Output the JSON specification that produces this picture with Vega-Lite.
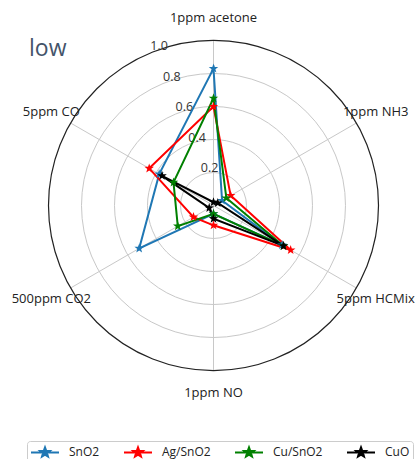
{
  "$schema": "https://vega.github.io/schema/vega-lite/v6.json",
  "autosize": "none",
  "width": 416,
  "height": 459,
  "padding": 0,
  "background": "white",
  "config": {"view": {"stroke": null}},
  "title": {"text": "low", "anchor": "start", "frame": "group", "orient": "top", "offset": 0, "dx": 29, "dy": 79, "baseline": "alphabetic", "fontSize": 23, "font": "Open Sans", "fontWeight": "normal", "color": "#44546A"},
  "datasets": {
    "scores": [
      {"material": "SnO2", "gas": "1ppm acetone", "value": 0.83},
      {"material": "SnO2", "gas": "1ppm NH3", "value": 0.06},
      {"material": "SnO2", "gas": "5ppm HCMix", "value": 0.48},
      {"material": "SnO2", "gas": "1ppm NO", "value": 0.05},
      {"material": "SnO2", "gas": "500ppm CO2", "value": 0.52},
      {"material": "SnO2", "gas": "5ppm CO", "value": 0.38},
      {"material": "Ag/SnO2", "gas": "1ppm acetone", "value": 0.6},
      {"material": "Ag/SnO2", "gas": "1ppm NH3", "value": 0.12},
      {"material": "Ag/SnO2", "gas": "5ppm HCMix", "value": 0.54},
      {"material": "Ag/SnO2", "gas": "1ppm NO", "value": 0.12},
      {"material": "Ag/SnO2", "gas": "500ppm CO2", "value": 0.14},
      {"material": "Ag/SnO2", "gas": "5ppm CO", "value": 0.45},
      {"material": "Cu/SnO2", "gas": "1ppm acetone", "value": 0.65},
      {"material": "Cu/SnO2", "gas": "1ppm NH3", "value": 0.09},
      {"material": "Cu/SnO2", "gas": "5ppm HCMix", "value": 0.49},
      {"material": "Cu/SnO2", "gas": "1ppm NO", "value": 0.05},
      {"material": "Cu/SnO2", "gas": "500ppm CO2", "value": 0.25},
      {"material": "Cu/SnO2", "gas": "5ppm CO", "value": 0.28},
      {"material": "CuO", "gas": "1ppm acetone", "value": 0.02},
      {"material": "CuO", "gas": "1ppm NH3", "value": 0.03},
      {"material": "CuO", "gas": "5ppm HCMix", "value": 0.49},
      {"material": "CuO", "gas": "1ppm NO", "value": 0.08},
      {"material": "CuO", "gas": "500ppm CO2", "value": 0.03},
      {"material": "CuO", "gas": "5ppm CO", "value": 0.36}
    ],
    "gases": [
      {"gas": "1ppm acetone"},
      {"gas": "1ppm NH3"},
      {"gas": "5ppm HCMix"},
      {"gas": "1ppm NO"},
      {"gas": "500ppm CO2"},
      {"gas": "5ppm CO"}
    ],
    "rings": [
      {"r": 0.2, "label": "0.2"},
      {"r": 0.4, "label": "0.4"},
      {"r": 0.6, "label": "0.6"},
      {"r": 0.8, "label": "0.8"},
      {"r": 1.0, "label": "1.0"}
    ]
  },
  "layer": [
    {
      "data": {"name": "rings"},
      "transform": [{"filter": "datum.r < 1"}],
      "mark": {"type": "point", "filled": false, "stroke": "#c8c8c8", "strokeWidth": 1, "shape": "circle", "opacity": 1},
      "encoding": {
        "x": {"datum": 0, "type": "quantitative", "scale": {"domain": [-1.2939, 1.2273], "nice": false, "zero": false}, "axis": null},
        "y": {"datum": 0, "type": "quantitative", "scale": {"domain": [-1.5364, 1.2455], "nice": false, "zero": false}, "axis": null},
        "size": {"field": "r", "type": "quantitative", "scale": {"type": "pow", "exponent": 2, "domain": [0, 1], "range": [0, 108900], "zero": true}, "legend": null}
      }
    },
    {
      "data": {"name": "gases"},
      "transform": [
        {"calculate": "indexof(['1ppm acetone','1ppm NH3','5ppm HCMix','1ppm NO','500ppm CO2','5ppm CO'], datum.gas)", "as": "idx"},
        {"calculate": "sin(datum.idx*PI/3)", "as": "ex"},
        {"calculate": "cos(datum.idx*PI/3)", "as": "ey"}
      ],
      "mark": {"type": "rule", "color": "#c8c8c8", "strokeWidth": 1},
      "encoding": {
        "x": {"field": "ex", "type": "quantitative"},
        "y": {"field": "ey", "type": "quantitative"},
        "x2": {"datum": 0},
        "y2": {"datum": 0}
      }
    },
    {
      "data": {"name": "rings"},
      "transform": [{"filter": "datum.r == 1"}],
      "mark": {"type": "point", "filled": false, "stroke": "#222222", "strokeWidth": 1.2, "shape": "circle", "opacity": 1},
      "encoding": {
        "x": {"datum": 0, "type": "quantitative"},
        "y": {"datum": 0, "type": "quantitative"},
        "size": {"field": "r", "type": "quantitative"}
      }
    },
    {
      "data": {"name": "rings"},
      "transform": [
        {"calculate": "-0.38268*datum.r", "as": "tx"},
        {"calculate": "0.92388*datum.r", "as": "ty"}
      ],
      "mark": {"type": "text", "align": "left", "baseline": "bottom", "font": "Open Sans", "fontSize": 12.5, "color": "#333333"},
      "encoding": {
        "x": {"field": "tx", "type": "quantitative"},
        "y": {"field": "ty", "type": "quantitative"},
        "text": {"field": "label"}
      }
    },
    {
      "data": {"name": "gases"},
      "transform": [
        {"calculate": "indexof(['1ppm acetone','1ppm NH3','5ppm HCMix','1ppm NO','500ppm CO2','5ppm CO'], datum.gas)", "as": "idx"},
        {"calculate": "1.135*sin(datum.idx*PI/3)", "as": "lx"},
        {"calculate": "1.135*cos(datum.idx*PI/3)", "as": "ly"}
      ],
      "mark": {"type": "text", "align": "center", "baseline": "middle", "font": "Open Sans", "fontSize": 13, "color": "#222222"},
      "encoding": {
        "x": {"field": "lx", "type": "quantitative"},
        "y": {"field": "ly", "type": "quantitative"},
        "text": {"field": "gas"}
      }
    },
    {
      "data": {"name": "scores"},
      "transform": [
        {"calculate": "indexof(['1ppm acetone','1ppm NH3','5ppm HCMix','1ppm NO','500ppm CO2','5ppm CO'], datum.gas)", "as": "idx"},
        {"calculate": "datum.value*sin(datum.idx*PI/3)", "as": "px"},
        {"calculate": "datum.value*cos(datum.idx*PI/3)", "as": "py"}
      ],
      "mark": {"type": "line", "interpolate": "linear-closed", "strokeWidth": 2},
      "encoding": {
        "x": {"field": "px", "type": "quantitative"},
        "y": {"field": "py", "type": "quantitative"},
        "order": {"field": "idx", "type": "quantitative"},
        "color": {
          "field": "material", "type": "nominal",
          "scale": {"domain": ["SnO2", "Ag/SnO2", "Cu/SnO2", "CuO"], "range": ["#1f77b4", "#ff0000", "#008000", "#000000"]},
          "legend": {
            "title": null, "orient": "none", "legendX": 27, "legendY": 441, "direction": "horizontal", "columns": 4,
            "columnPadding": 20, "padding": 3, "strokeColor": "#cccccc", "cornerRadius": 3,
            "symbolType": "M-1,0L3,0M1,-0.72L1.176,-0.243L1.685,-0.222L1.285,0.093L1.423,0.582L1,0.3L0.577,0.582L0.715,0.093L0.315,-0.222L0.824,-0.243Z",
            "symbolSize": 196, "symbolStrokeWidth": 2, "labelOffset": 23,
            "labelFont": "Open Sans", "labelFontSize": 12, "labelColor": "#222222",
            "encode": {"symbols": {"update": {"fill": {"scale": "color", "field": "value"}, "stroke": {"scale": "color", "field": "value"}, "opacity": {"value": 1}}}}
          }
        }
      }
    },
    {
      "data": {"name": "scores"},
      "transform": [
        {"calculate": "indexof(['1ppm acetone','1ppm NH3','5ppm HCMix','1ppm NO','500ppm CO2','5ppm CO'], datum.gas)", "as": "idx"},
        {"calculate": "datum.value*sin(datum.idx*PI/3)", "as": "px"},
        {"calculate": "datum.value*cos(datum.idx*PI/3)", "as": "py"}
      ],
      "mark": {"type": "point", "shape": "M0,-1L0.235,-0.324L0.951,-0.309L0.38,0.124L0.588,0.809L0,0.4L-0.588,0.809L-0.38,0.124L-0.951,-0.309L-0.235,-0.324Z", "filled": true, "size": 100, "opacity": 1},
      "encoding": {
        "x": {"field": "px", "type": "quantitative"},
        "y": {"field": "py", "type": "quantitative"},
        "color": {"field": "material", "type": "nominal"}
      }
    }
  ]
}
